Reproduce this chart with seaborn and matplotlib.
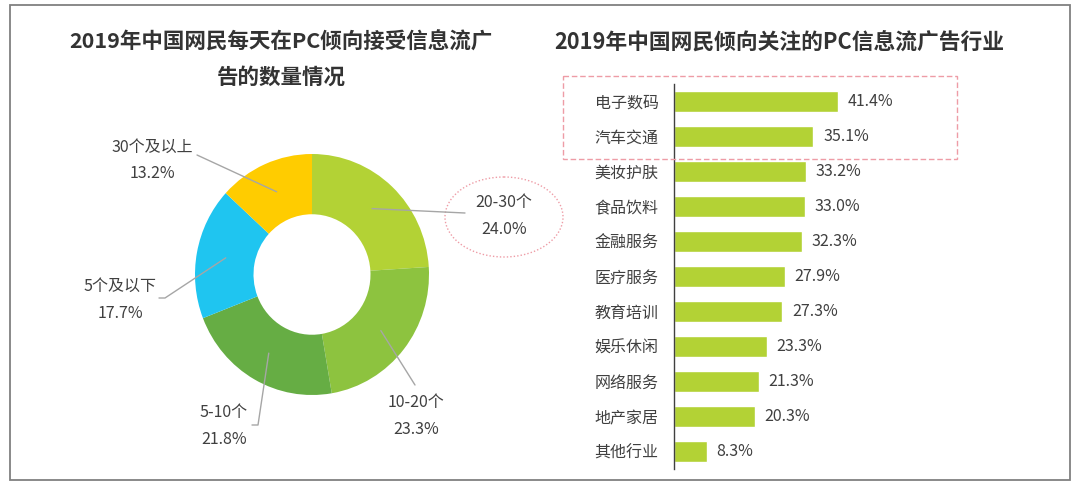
import matplotlib
matplotlib.use('Agg')
import numpy as np
import pandas as pd
import seaborn as sns
import matplotlib.pyplot as plt
from matplotlib.patches import Rectangle, Ellipse

# 左图：每天在PC接受信息流广告的数量
donut_labels = ['20-30个', '10-20个', '5-10个', '5个及以下', '30个及以上']
donut_values = [24.0, 23.3, 21.8, 17.7, 13.2]

# 右图：倾向关注的行业
industries = ['电子数码', '汽车交通', '美妆护肤', '食品饮料', '金融服务', '医疗服务',
              '教育培训', '娱乐休闲', '网络服务', '地产家居', '其他行业']
industry_values = [41.4, 35.1, 33.2, 33.0, 32.3, 27.9, 27.3, 23.3, 21.3, 20.3, 8.3]

title_left = ['2019年中国网民每天在PC倾向接受信息流广', '告的数量情况']
title_right = '2019年中国网民倾向关注的PC信息流广告行业'

sns.set_style('white')
plt.rcParams['font.family'] = ['Noto Sans CJK SC', 'DejaVu Sans']

W, H = 1080, 488
TXT = '#404040'
FS = 11.5
fig = plt.figure(figsize=(W / 100, H / 100), dpi=100)


def px_box(left, top, right, bottom):
    # 像素坐标 -> figure 坐标
    return [left / W, 1 - bottom / H, (right - left) / W, (bottom - top) / H]


# 环形图
cx, cy, rx, ry = 312, 274.5, 117, 120.5
ax_pie = fig.add_axes(px_box(cx - rx, cy - ry, cx + rx, cy + ry))
pie_colors = ['#B3D235', '#8DC33F', '#66AD44', '#1FC5F0', '#FFCC00']
wedges, _ = ax_pie.pie(donut_values, colors=pie_colors, startangle=90, counterclock=False,
                       radius=1, wedgeprops=dict(width=0.5, linewidth=0))
ax_pie.set_xlim(-1, 1)
ax_pie.set_ylim(-1, 1)
ax_pie.set_aspect('auto')

# 条形图
px_per_unit = 3.97
ax_bar = fig.add_axes(px_box(674, 84, 674 + 50 * px_per_unit, 469))
df = pd.DataFrame({'行业': industries, '比例': industry_values})
sns.barplot(data=df, x='比例', y='行业', orient='h', color='#B3D235', saturation=1,
            width=0.6, ax=ax_bar)
ax_bar.set_xlim(0, 50)
ax_bar.set_ylim(len(industries) - 0.5, -0.5)
ax_bar.set_xlabel('')
ax_bar.set_ylabel('')
ax_bar.set_xticks([])
for s in ['top', 'right', 'bottom']:
    ax_bar.spines[s].set_visible(False)
ax_bar.spines['left'].set_color('#404040')
ax_bar.spines['left'].set_linewidth(1)
ax_bar.tick_params(axis='y', length=0, pad=11, labelsize=FS, labelcolor=TXT)
ax_bar.patch.set_alpha(0)
ax_bar.bar_label(ax_bar.containers[0], labels=[f'{v:.1f}%' for v in industry_values],
                 padding=7, fontsize=FS, color=TXT)

# 覆盖层（像素坐标）
ov = fig.add_axes([0, 0, 1, 1])
ov.set_xlim(0, W)
ov.set_ylim(H, 0)
ov.axis('off')

ov.add_patch(Rectangle((10, 5), 1060, 475, fill=False, ec='#808080', lw=1.3))
ov.add_patch(Rectangle((563, 76), 394, 83, fill=False, ec='#EE9CA6', lw=1, ls=(0, (4, 2))))
ov.add_patch(Ellipse((504, 217), 118, 80, fill=False, ec='#EE9CA6', lw=1, ls=(0, (1, 1.5))))

ov.text(281, 42, title_left[0], ha='center', va='center', fontsize=15.5, fontweight='bold', color='#333333')
ov.text(281, 77, title_left[1], ha='center', va='center', fontsize=15.5, fontweight='bold', color='#333333')
ov.text(779, 42, title_right, ha='center', va='center', fontsize=15.7, fontweight='bold', color='#333333')

# 标签位置与引导线折点
label_pos = [(504, 202), (416, 402), (224, 413), (120, 286), (152, 147)]
leader_pts = [[(465, 213)], [(415, 385)], [(258, 425), (252, 425)],
              [(165, 298), (159, 298)], [(197, 155)]]
for w, name, val, (tx, ty), pts in zip(wedges, donut_labels, donut_values, label_pos, leader_pts):
    ang = np.deg2rad((w.theta1 + w.theta2) / 2)
    sx = cx + 0.75 * rx * np.cos(ang)
    sy = cy - 0.75 * ry * np.sin(ang)
    xs = [sx] + [p[0] for p in pts]
    ys = [sy] + [p[1] for p in pts]
    ov.plot(xs, ys, color='#A6A6A6', lw=1)
    ov.text(tx, ty, name, ha='center', va='center', fontsize=FS, color=TXT)
    ov.text(tx, ty + 27, f'{val:.1f}%', ha='center', va='center', fontsize=FS, color=TXT)

fig.savefig('out.png', dpi=100)
